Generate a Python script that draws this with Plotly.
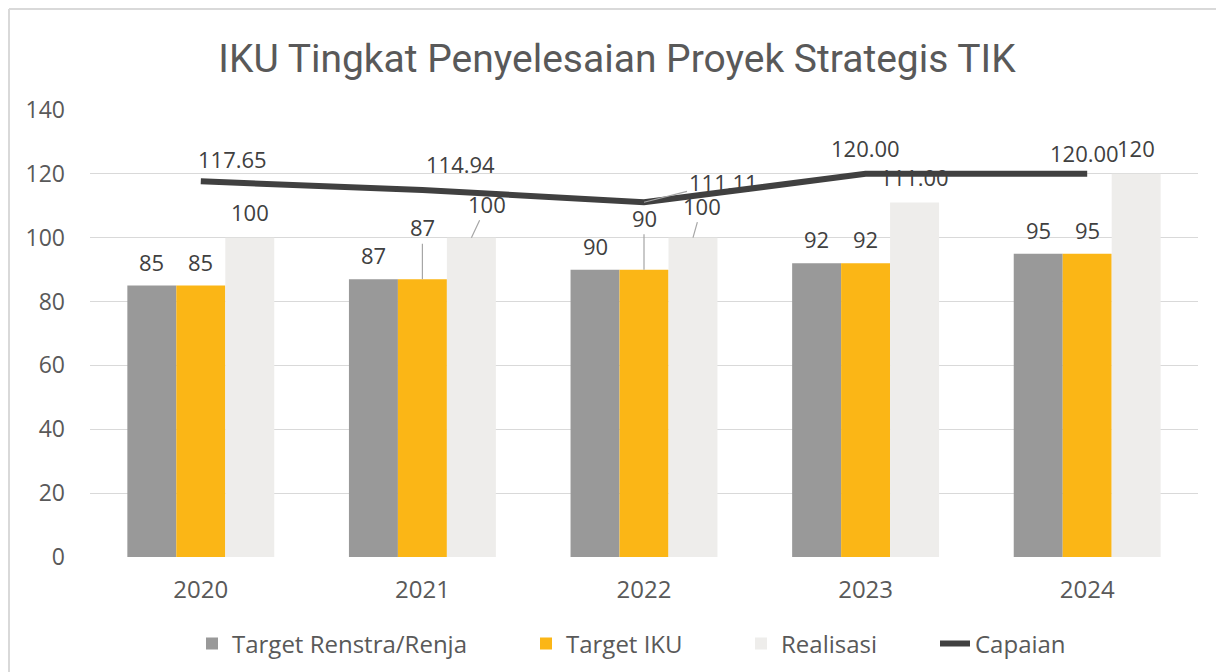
import plotly.graph_objects as go

years = ["2020", "2021", "2022", "2023", "2024"]
target_renstra = [85, 87, 90, 92, 95]
target_iku = [85, 87, 90, 92, 95]
realisasi = [100, 100, 100, 111, 120]
capaian = [117.65, 114.94, 111.11, 120.00, 120.00]

realisasi_text = ["100", "100", "100", "111.00", "120"]
capaian_text = [f"{v:.2f}" for v in capaian]

C_GRAY = "#999999"
C_ORANGE = "#FBB616"
C_LIGHT = "#EEEDEB"
C_LINE = "#404040"
TXT = "#595959"
FONT = "Open Sans"

W, H = 1224, 672
ML, MR, MT, MB = 82, 34, 102, 123
PW, PH = W - ML - MR, H - MT - MB

fig = go.Figure()
fig.add_trace(go.Bar(name="Target Renstra/Renja", x=years, y=target_renstra, legend="legend",
                     marker=dict(color=C_GRAY, line=dict(width=0))))
fig.add_trace(go.Bar(name="Target IKU", x=years, y=target_iku, legend="legend2",
                     marker=dict(color=C_ORANGE, line=dict(width=0))))
fig.add_trace(go.Bar(name="Realisasi", x=years, y=realisasi, legend="legend3",
                     marker=dict(color=C_LIGHT, line=dict(width=0))))
fig.add_trace(go.Scatter(name="Capaian", x=years, y=capaian, mode="lines", legend="legend4",
                         line=dict(color=C_LINE, width=6)))

BW = 49
lab_font = dict(family=FONT, size=22, color=C_LINE)
ann = []

def add_label(i, y, text, xs, dx, dy, leader):
    if leader:
        ann.append(dict(x=i, y=y, xref="x", yref="y", text=text, showarrow=True,
                        ax=dx, ay=dy, xshift=xs, arrowhead=0, arrowwidth=1.2,
                        arrowcolor="#A6A6A6", standoff=0, font=lab_font))
    else:
        ann.append(dict(x=i, y=y, xref="x", yref="y", text=text, showarrow=False,
                        xshift=xs + dx, yshift=-dy, font=lab_font))

renstra_off = [(0, -24, False)] * 5
iku_off = [(0, -24, False), (0, -52, True), (0, -52, True), (0, -24, False), (0, -24, False)]
real_off = [(0, -26, False), (16, -34, True), (9, -32, True), (0, -26, False), (0, -26, False)]
cap_off = [(32, -22, False), (38, -26, False), (79, -20, True), (0, -26, False), (-3, -21, False)]

for i in range(len(years)):
    add_label(i, target_renstra[i], str(target_renstra[i]), -BW, *renstra_off[i])
    add_label(i, target_iku[i], str(target_iku[i]), 0, *iku_off[i])
    add_label(i, realisasi[i], realisasi_text[i], BW, *real_off[i])
    add_label(i, capaian[i], capaian_text[i], 0, *cap_off[i])

leg_y = 1 - 636 / H
leg_common = dict(orientation="h", xref="container", yref="container", y=leg_y,
                  xanchor="left", yanchor="middle", font=dict(size=24, color=TXT, family=FONT),
                  itemwidth=30, bgcolor="rgba(0,0,0,0)", borderwidth=0)
leg_x = [184, 518, 733, 927]

border = dict(color="#D9D9D9", width=2)
bx0 = (1 - ML) / PW
by1 = 1 + (MT - 1) / PH

fig.update_layout(
    width=W, height=H,
    margin=dict(l=ML, r=MR, t=MT, b=MB, autoexpand=False),
    paper_bgcolor="white", plot_bgcolor="white",
    barmode="group", bargap=0.337, bargroupgap=0,
    font=dict(family=FONT, color=TXT, size=22),
    title=dict(text="IKU Tingkat Penyelesaian Proyek Strategis TIK",
               x=609 / W, xanchor="center", y=1 - 50 / H, yanchor="middle",
               font=dict(family="Roboto", size=39, color=TXT)),
    xaxis=dict(type="category", range=[-0.5, len(years) - 0.5], showgrid=False,
               showline=False, ticks="", ticklabelstandoff=16,
               tickfont=dict(size=24, color=TXT)),
    yaxis=dict(range=[0, 140], dtick=20, showgrid=True, gridcolor="#D9D9D9", gridwidth=1.3,
               zeroline=False, showline=False, ticks="", ticklabelstandoff=24,
               tickfont=dict(size=23, color=TXT)),
    showlegend=True,
    legend=dict(x=leg_x[0] / W, **leg_common),
    legend2=dict(x=leg_x[1] / W, **leg_common),
    legend3=dict(x=leg_x[2] / W, **leg_common),
    legend4=dict(x=leg_x[3] / W, **leg_common),
    annotations=ann,
    hovermode=False,
    shapes=[
        dict(type="line", xref="paper", yref="paper", x0=bx0, x1=(W - ML) / PW,
             y0=by1, y1=by1, line=border, layer="below"),
        dict(type="line", xref="paper", yref="paper", x0=bx0, x1=bx0,
             y0=-MB / PH, y1=by1, line=border, layer="below"),
    ],
)

fig.write_html("out.html")
